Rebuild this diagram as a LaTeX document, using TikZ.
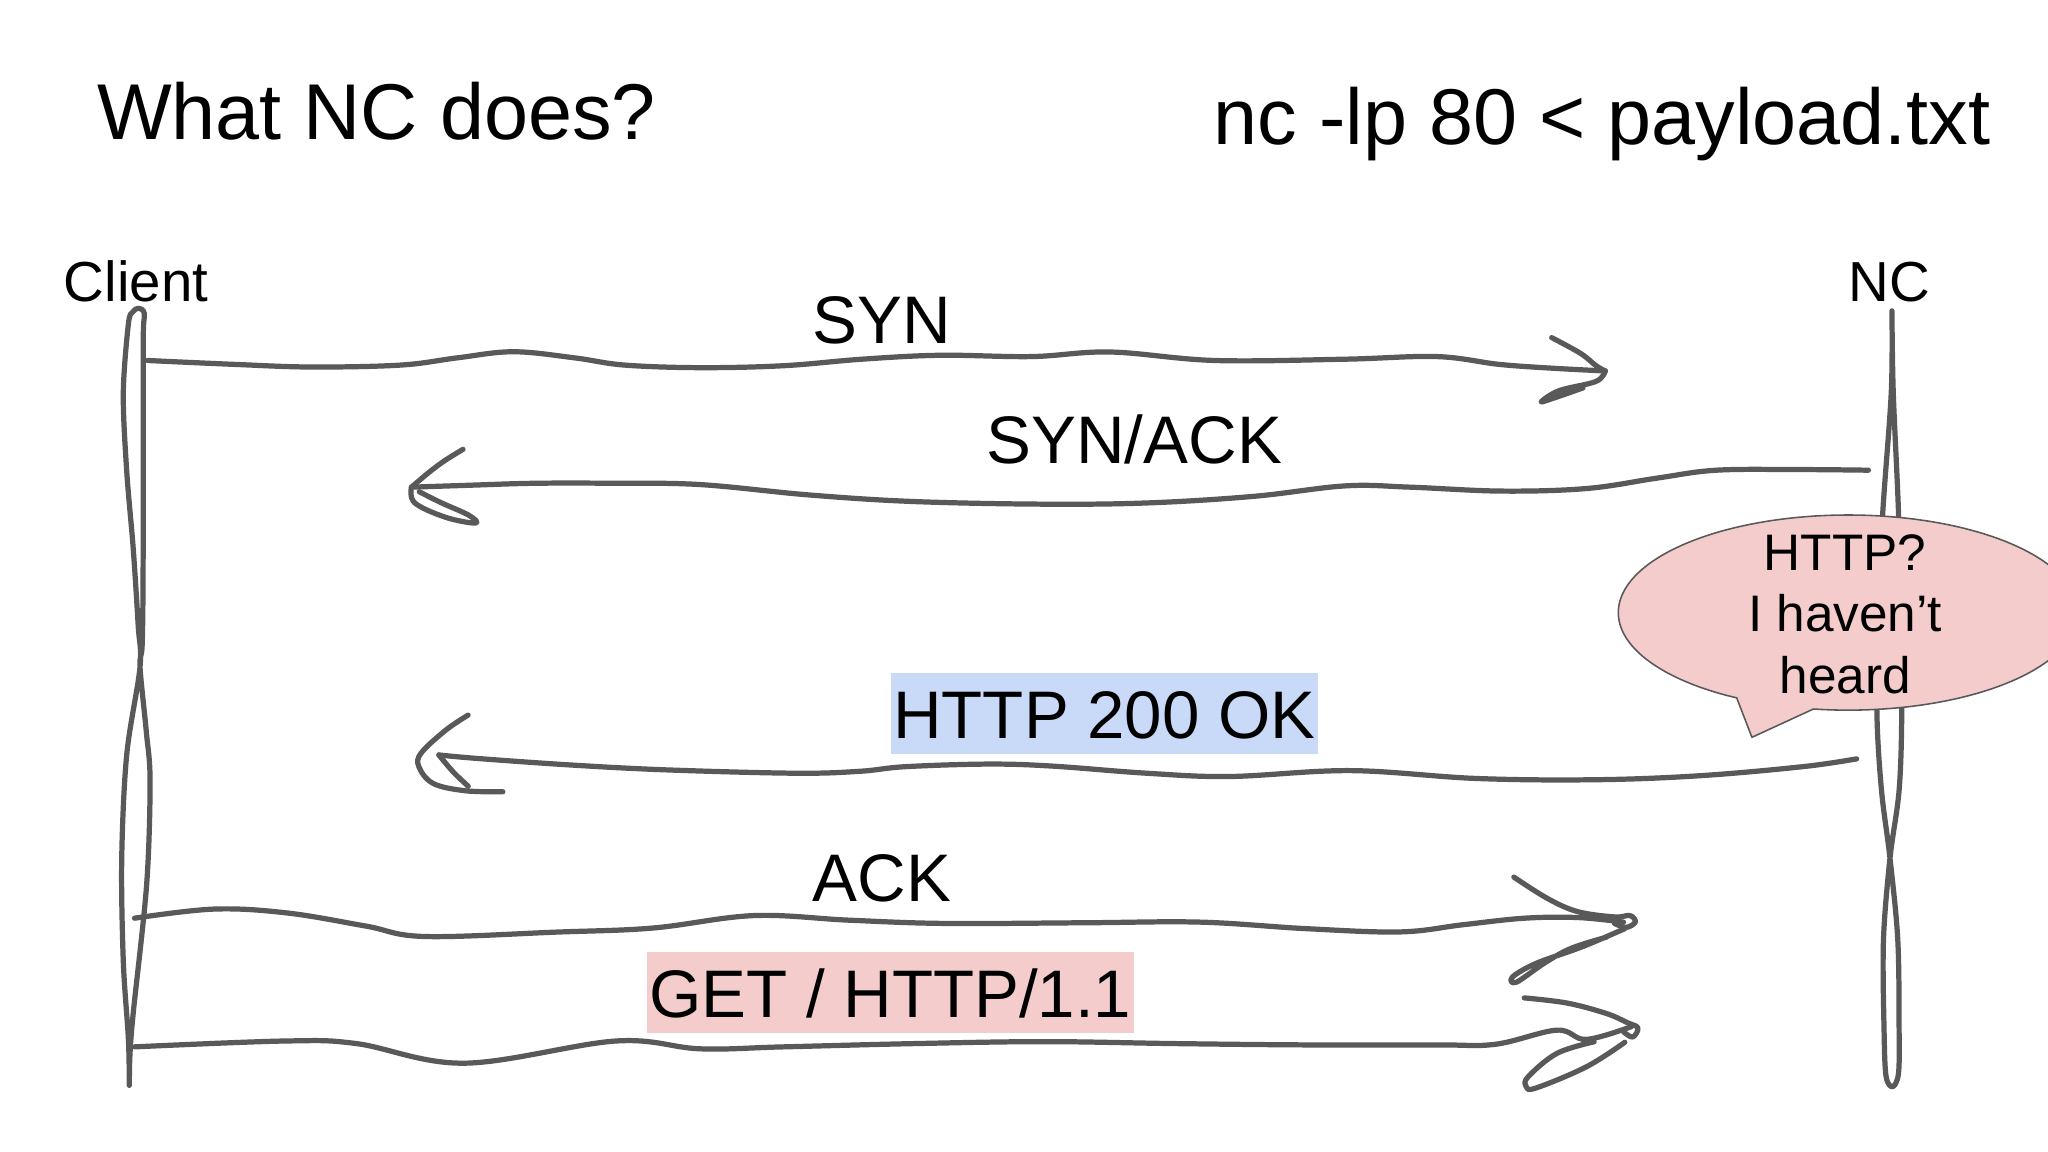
\documentclass[tikz,border=0pt]{standalone}
\usepackage{fontspec}
\setmainfont{Liberation Sans}
\definecolor{linec}{HTML}{595959}
\definecolor{pinkf}{HTML}{F4CCCC}
\definecolor{bluef}{HTML}{C9DAF8}
\begin{document}
\begin{tikzpicture}[x=0.5pt, y=-0.5pt,
  sketch/.style={draw=linec, line width=2pt, line cap=round, line join=round},
  txt/.style={anchor=base west, inner sep=0pt, text=black},
  bigfont/.style={font=\fontsize{30.3pt}{36pt}\selectfont},
  partyfont/.style={font=\fontsize{21.6pt}{25pt}\selectfont},
  msgfont/.style={font=\fontsize{25.75pt}{31pt}\selectfont},
  hl/.style={anchor=base west, inner xsep=1pt, inner ysep=0pt, text height=25.15pt, text depth=6pt, text=black},
  bubfont/.style={anchor=base, inner sep=0pt, font=\fontsize{19.65pt}{23.6pt}\selectfont}]
\useasboundingbox (0,0) rectangle (1568,882);
\clip (0,0) rectangle (1568,882);
\fill[white] (0,0) rectangle (1568,882);

% titles
\node[txt, bigfont] (title) at (74,106.5) {What NC does?};
\node[txt, bigfont] (cmd) at (929,111) {nc -lp 80 < payload.txt};

% parties
\node[txt, partyfont] (client) at (48.5,231) {Client};
\node[txt, partyfont] (nc) at (1415,231) {NC};

% lifelines
\coordinate (cTop) at (106,236);
\coordinate (cBot) at (99,831);
\coordinate (nTop) at (1448.5,238);
\coordinate (nBot) at (1449,832);
\draw[sketch] plot[smooth, tension=0.55] coordinates {
  (cBot) (98.3,795.6) (94.4,736) (93.2,657) (97,578) (107.2,510.7) (105.8,479) (102,420)
  (97,360.5) (94.4,301) (98.3,248) (101.5,239) (cTop) (110.5,240) (109.7,258) (109.7,350)
  (109.5,450) (108.8,495) (107.2,510.7) (112,560) (114.9,597.8) (112.3,676.9) (102,775.7)
  (99.5,807.4) (cBot)};
\draw[sketch] plot[smooth, tension=0.55] coordinates {
  (nTop) (1448,300) (1441.5,392) (1438,470) (1437,546) (1440.5,605) (1447,657) (1453,720)
  (1454,790) (1453.5,822) (nBot) (1444,824) (1442.5,790) (1442,720) (1447,657) (1454,605)
  (1456,546) (1455,470) (1453.5,392) (1449.5,300) (nTop)};

% SYN  (client -> NC)
\coordinate (synS) at (113,276);
\coordinate (synE) at (1229,284);
\draw[sketch] plot[smooth, tension=0.6] coordinates {
  (synS) (180,279) (239,281) (307,279.5) (350,274) (393,269.3) (440,274) (478,279.5)
  (536,281.5) (600,280) (660,275) (720,272) (790,273) (850,269.5) (930,276) (1030,275)
  (1100,273) (1148,279) (1190,282) (synE)};
\draw[sketch] plot[smooth, tension=0.6] coordinates {(1188,258.5) (1210,270.5) (1222,280) (synE)};
\draw[sketch] plot[smooth, tension=0.6] coordinates {(synE) (1222,292) (1194,299) (1180,307.5) (1189,305) (1212,297)};
\node[txt, msgfont] (syn) at (622,263) {SYN};

% SYN/ACK (NC -> client)
\coordinate (saS) at (1430.5,360);
\coordinate (saE) at (315,373);
\draw[sketch] plot[smooth, tension=0.6] coordinates {
  (saS) (1376,359.5) (1314,360) (1269,366) (1215,374) (1150,376) (1080,373) (1030,372)
  (960,380) (880,385) (800,386) (700,384) (620,379) (536,371) (470,370) (410,370) (360,371.5) (saE)};
\draw[sketch] plot[smooth, tension=0.6] coordinates {(354.5,344) (340,353) (328,362) (saE)};
\draw[sketch] plot[smooth, tension=0.6] coordinates {(saE) (317.5,385) (341,396) (364,400.5) (359,394.5) (338,385) (321,376.5)};
\node[txt, msgfont] (synack) at (755,355) {SYN/ACK};

% HTTP 200 OK (NC -> client)
\coordinate (okS) at (1421.5,581);
\coordinate (okE) at (336,578);
\draw[sketch] plot[smooth, tension=0.6] coordinates {
  (okS) (1380,587) (1300,594) (1220,597) (1130,596) (1034,590) (942,594.5) (878,592) (805,586.5)
  (756,585) (693,587) (658.5,590.5) (610,592) (512,589.5) (438.7,585.8) (365.6,580.7) (okE)};
\draw[sketch] plot[smooth, tension=0.6] coordinates {(okE) (347,591) (358.5,602)};
\draw[sketch] plot[smooth, tension=0.6] coordinates {(358.4,547.5) (341.3,559) (322.5,576.5) (320.7,587) (331.6,599.8) (356,605.4) (385,606.2)};
\node[hl, msgfont, fill=bluef] (ok) at (681.5,565.3) {HTTP 200 OK};

% ACK (client -> NC)
\coordinate (ackS) at (103,703);
\coordinate (ackE) at (1243,706);
\draw[sketch] plot[smooth, tension=0.6] coordinates {
  (ackS) (164,696) (220,699) (280,709) (325,717) (427,713.6) (500,710.5) (577,701) (650,704.5)
  (723,707) (830,706.5) (919,706) (1000,711) (1072,713.5) (1120,708) (1167,703) (1208,702.5) (ackE)};
\draw[sketch] plot[smooth, tension=0.6] coordinates {(1159,671.5) (1185,688) (1208,698) (1236,702) (1248,701) (1252,706) (1245,710) (1236,707)};
\draw[sketch] plot[smooth, tension=0.6] coordinates {(1244,711) (1211,725) (1176,737.6) (1158,748) (1161,752) (1183,737) (1203,726) (1230,717.5)};
\node[txt, msgfont] (ack) at (622,690) {ACK};

% GET / HTTP/1.1 (client -> NC)
\coordinate (getS) at (103,801.5);
\coordinate (getE) at (1249,786);
\draw[sketch] plot[smooth, tension=0.6] coordinates {
  (getS) (219,797) (273,799) (355.5,814) (471.7,797) (536,803) (600,801.5) (700,799) (800,797.5)
  (900,799) (1000,800) (1100,800) (1145,799.5) (1192,788.7) (1214.4,795.8) (getE)};
\draw[sketch] plot[smooth, tension=0.6] coordinates {(1167,764) (1200,768) (1230,776) (1246,783) (1254,787) (1250,794) (1243,790)};
\draw[sketch] plot[smooth, tension=0.6] coordinates {(1244,798) (1214.5,816.8) (1176,833) (1168.5,832) (1170,824.4) (1192,806.5) (1220.5,797.6)};
\node[hl, msgfont, fill=pinkf] (get) at (494.6,779) {GET / HTTP/1.1};

% speech bubble
\coordinate (tip) at (1341.3,564.5);
\filldraw[fill=pinkf, draw=linec, line width=0.6pt, line join=round]
  plot[smooth, samples=120, domain=98.7:-241] ({1415+176*cos(\x)},{469+74.7*sin(\x)}) -- (tip) -- cycle;
\node[bubfont] (b1) at (1412.7,436.5) {HTTP?};
\node[bubfont] (b2) at (1412.7,483.7) {I haven’t};
\node[bubfont] (b3) at (1412.7,530.9) {heard};
\end{tikzpicture}
\end{document}
